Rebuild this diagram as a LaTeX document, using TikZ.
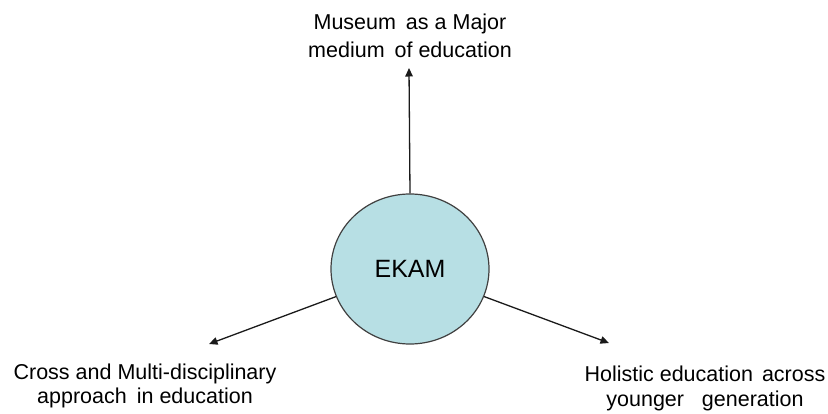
\documentclass[tikz,border=0pt]{standalone}
\usepackage{fontspec}
\setmainfont{Liberation Sans}
\usetikzlibrary{arrows.meta,shapes.geometric}
\definecolor{hubfill}{HTML}{B7DFE4}
\definecolor{hubline}{HTML}{404040}
\definecolor{arrowcol}{HTML}{1A1A1A}
\begin{document}
\begin{tikzpicture}[x=1pt,y=-1pt,
  hub/.style={ellipse,draw=hubline,line width=1.2pt,fill=hubfill,minimum width=158pt,minimum height=150pt,inner sep=0pt,font=\fontsize{25}{30}\selectfont},
  lbl/.style={align=center,inner sep=0pt,anchor=north},
  conn/.style={draw=arrowcol,line width=1.3pt,-{Triangle[length=8.5pt,width=7.5pt]}}]
\useasboundingbox (0,0) rectangle (828,414);
\node[hub] (ekam) at (410,269) {EKAM};
\coordinate (topend) at (409,68);
\coordinate (leftend) at (209,344);
\coordinate (rightend) at (609,343);
\node[lbl,font=\fontsize{21.5}{28}\selectfont] (top) at (410,13.5) {Museum\hspace{4pt} as a Major\\medium\hspace{4pt} of education};
\node[lbl,font=\fontsize{21.5}{24}\selectfont] (left) at (145,363.5) {Cross and Multi-disciplinary\\approach\hspace{4pt} in education};
\node[lbl,font=\fontsize{21.5}{25}\selectfont] (right) at (705,365.5) {Holistic education\hspace{3pt} across\\younger\ \ \ generation};
\draw[conn] (ekam.north) -- (topend);
\draw[conn] (ekam) -- (leftend);
\draw[conn] (ekam) -- (rightend);
\end{tikzpicture}
\end{document}
